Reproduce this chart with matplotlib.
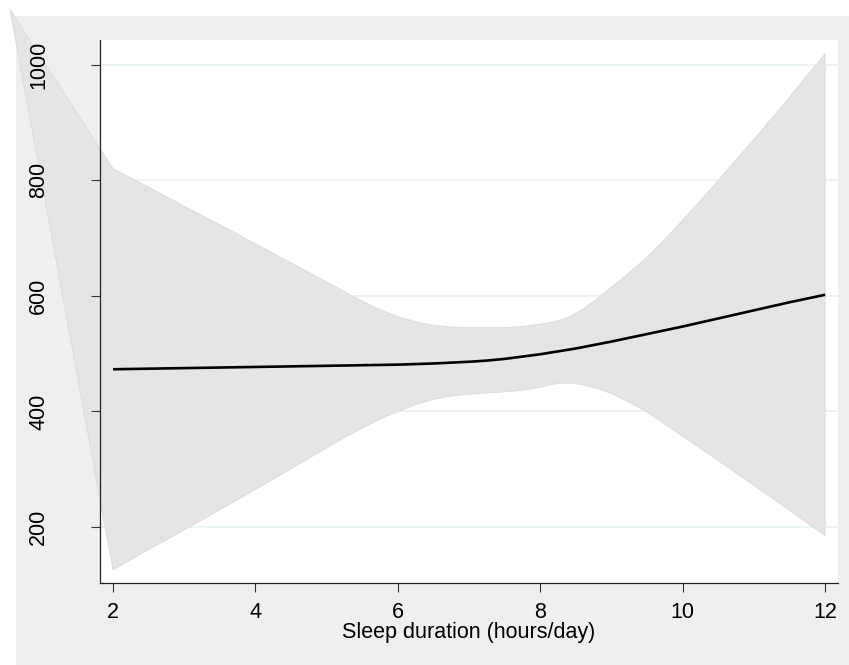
import matplotlib
matplotlib.use("Agg")
import matplotlib.pyplot as plt
from matplotlib.patches import Rectangle, Polygon
import numpy as np

plt.rcParams['font.family'] = ['Liberation Sans', 'DejaVu Sans']

# Fitted curve (sleep duration vs outcome)
line_x = [2, 3, 4, 5, 6, 6.5, 7, 7.25, 7.5, 7.75, 8, 8.25, 8.5, 8.75, 9, 9.5, 10, 10.5, 11, 11.5, 12]
line_y = [473, 475, 477, 479, 481, 483, 486, 488, 491, 495, 499, 504, 509, 515, 521, 534, 547, 561, 575, 589, 602]

# Upper confidence limit
upper_x = [2, 2.5, 3, 3.5, 4, 4.5, 5, 5.25, 5.5, 5.75, 6, 6.25, 6.5, 6.75, 7, 7.5, 7.75, 8,
           8.2, 8.4, 8.6, 8.8, 9, 9.25, 9.5, 9.75, 10, 10.25, 10.5, 10.75, 11, 11.25, 11.5, 11.75, 12]
upper_y = [820, 788, 755, 723, 690, 657, 624, 607, 591, 576, 564, 555, 549, 546, 545, 545, 547, 551,
           555, 563, 577, 595, 615, 640, 667, 698, 731, 765, 800, 836, 871, 907, 944, 982, 1019]

# Lower confidence limit
lower_x = [2, 2.5, 3, 3.5, 4, 4.5, 5, 5.25, 5.5, 5.75, 6, 6.25, 6.5, 6.75, 7, 7.25, 7.5, 7.75, 8,
           8.15, 8.3, 8.45, 8.6, 8.8, 9, 9.25, 9.5, 10, 10.5, 11, 11.5, 12]
lower_y = [126, 161, 195, 230, 265, 301, 337, 355, 371, 387, 400, 412, 421, 427, 430, 432, 434, 437, 442,
           447, 449, 449, 446, 440, 431, 416, 399, 357, 315, 272, 229, 185]

# Stray vertex of the shaded polygon seen in the original rendering
stray_x = [0.553]
stray_y = [1096]

x_ticks = [2, 4, 6, 8, 10, 12]
y_ticks = [200, 400, 600, 800, 1000]
x_label = "Sleep duration (hours/day)"

fig = plt.figure(figsize=(8.49, 6.65), dpi=100)
fig.patch.set_facecolor('white')
fig.patches.append(Rectangle((16 / 849, 0), 1, (665 - 16) / 665,
                             transform=fig.transFigure, facecolor='#efefef',
                             edgecolor='none', zorder=-10))

ax = fig.add_axes([100 / 849, 1 - 583 / 665, (838 - 100) / 849, (583 - 40) / 665])
ax.set_facecolor('white')
ax.set_xlim(1.817, 12.18)
ax.set_ylim(103, 1043)

for yt in y_ticks:
    ax.axhline(yt, color='#eaf2f3', lw=1.3, zorder=0.8)

poly_x = list(upper_x) + list(lower_x[::-1]) + stray_x
poly_y = list(upper_y) + list(lower_y[::-1]) + stray_y
band = Polygon(np.column_stack([poly_x, poly_y]), closed=True,
               facecolor='#e5e5e5', edgecolor='#dedede', lw=0.8,
               clip_on=False, zorder=1.0)
ax.add_patch(band)

ax.plot(line_x, line_y, color='black', lw=1.9, zorder=3,
        solid_capstyle='butt', solid_joinstyle='round')

for s in ['top', 'right']:
    ax.spines[s].set_visible(False)
for s in ['left', 'bottom']:
    ax.spines[s].set_color('#222222')
    ax.spines[s].set_linewidth(0.9)
    ax.spines[s].set_zorder(4)

ax.set_xticks(x_ticks)
ax.set_xticklabels([str(v) for v in x_ticks])
ax.set_yticks(y_ticks)
ax.set_yticklabels([str(v) for v in y_ticks], rotation=90, va='center')
ax.tick_params(axis='both', direction='out', length=6.5, width=0.8,
               color='#333333', labelsize=15.5, labelcolor='black')
ax.tick_params(axis='x', pad=7.5)
ax.tick_params(axis='y', pad=30)
ax.set_xlabel(x_label, fontsize=15.5, labelpad=-1)

fig.savefig('out.png', dpi=100, facecolor=fig.get_facecolor())
